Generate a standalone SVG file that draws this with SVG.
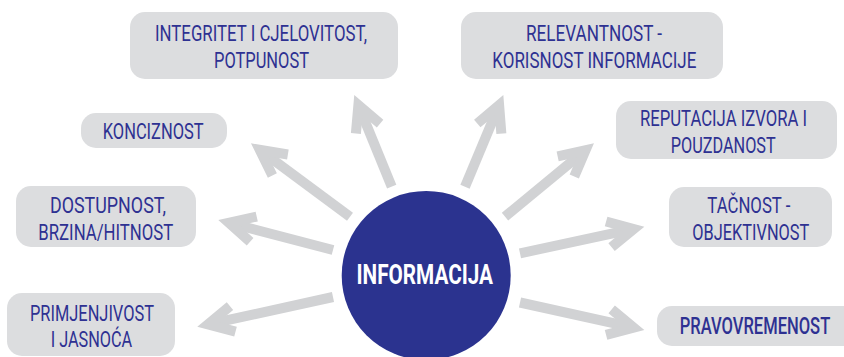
<svg xmlns="http://www.w3.org/2000/svg" width="844" height="357" viewBox="0 0 844 357">
  <style>
    .box { fill: #dcdddf; }
    .lbl { font-family: Roboto, "Liberation Sans", sans-serif; font-size: 22.5px; font-weight: 400; fill: #2e3192; }
    .lbl-strong { font-family: Roboto, "Liberation Sans", sans-serif; font-size: 23.5px; font-weight: 500; fill: #2e3192; }
    .conn line { stroke: #d1d2d4; stroke-width: 10; stroke-linecap: butt; fill: none; }
    .center-txt { font-family: Roboto, "Liberation Sans", sans-serif; font-size: 28px; font-weight: bold; fill: #ffffff; }
  </style>
  <defs>
    <marker id="ah" markerUnits="userSpaceOnUse" orient="auto" refX="0" refY="0" markerWidth="60" markerHeight="60" overflow="visible">
      <path d="M12,0 L-22,-17.5 L-26.6,-8.6 L-10,0 L-26.6,8.6 L-22,17.5 Z" fill="#d1d2d4"/>
    </marker>
  </defs>
  <rect width="844" height="357" fill="#ffffff"/>

  <g id="connectors" class="conn">
    <line x1="391.7" y1="186.7" x2="358.8" y2="106.1" marker-end="url(#ah)"/>
    <line x1="465" y1="186.7" x2="498.7" y2="106.1" marker-end="url(#ah)"/>
    <line x1="350" y1="216.7" x2="260.6" y2="150.5" marker-end="url(#ah)"/>
    <line x1="505" y1="216.7" x2="584.7" y2="150.9" marker-end="url(#ah)"/>
    <line x1="333" y1="250" x2="229.9" y2="223" marker-end="url(#ah)"/>
    <line x1="520" y1="253.3" x2="632.6" y2="229.2" marker-end="url(#ah)"/>
    <line x1="333" y1="297" x2="209" y2="324.1" marker-end="url(#ah)"/>
    <line x1="520" y1="302.5" x2="632.6" y2="327.4" marker-end="url(#ah)"/>
  </g>

  <g id="node-informacija">
    <circle cx="426.2" cy="275.5" r="84.5" fill="#2b338f"/>
    <text class="center-txt" transform="translate(356.5,284) scale(0.72,1)" textLength="189.6" lengthAdjust="spacingAndGlyphs">INFORMACIJA</text>
  </g>

  <g id="node-integritet">
    <rect class="box" x="130" y="12" width="268" height="67" rx="15"/>
    <text class="lbl" transform="translate(155,40.7) scale(0.74,1)" textLength="286.5" lengthAdjust="spacingAndGlyphs">INTEGRITET I CJELOVITOST,</text>
    <text class="lbl" transform="translate(214,67.7) scale(0.74,1)" textLength="128.4" lengthAdjust="spacingAndGlyphs">POTPUNOST</text>
  </g>

  <g id="node-relevantnost">
    <rect class="box" x="461" y="12" width="262" height="67" rx="15"/>
    <text class="lbl" transform="translate(526,40.7) scale(0.74,1)" textLength="183.8" lengthAdjust="spacingAndGlyphs">RELEVANTNOST -</text>
    <text class="lbl" transform="translate(492.3,67.7) scale(0.74,1)" textLength="275.7" lengthAdjust="spacingAndGlyphs">KORISNOST INFORMACIJE</text>
  </g>

  <g id="node-konciznost">
    <rect class="box" x="81" y="113" width="146" height="35" rx="15"/>
    <text class="lbl" transform="translate(102.7,139.3) scale(0.74,1)" textLength="136.5" lengthAdjust="spacingAndGlyphs">KONCIZNOST</text>
  </g>

  <g id="node-reputacija">
    <rect class="box" x="616" y="101" width="221" height="58" rx="15"/>
    <text class="lbl" transform="translate(640,126) scale(0.74,1)" textLength="225.7" lengthAdjust="spacingAndGlyphs">REPUTACIJA IZVORA I</text>
    <text class="lbl" transform="translate(670.7,153.3) scale(0.74,1)" textLength="141.9" lengthAdjust="spacingAndGlyphs">POUZDANOST</text>
  </g>

  <g id="node-dostupnost">
    <rect class="box" x="16" y="186" width="180" height="61" rx="15"/>
    <text class="lbl" transform="translate(50,213.3) scale(0.74,1)" textLength="156.8" lengthAdjust="spacingAndGlyphs">DOSTUPNOST,</text>
    <text class="lbl" transform="translate(38.3,240) scale(0.74,1)" textLength="182.4" lengthAdjust="spacingAndGlyphs">BRZINA/HITNOST</text>
  </g>

  <g id="node-tacnost">
    <rect class="box" x="669" y="187" width="163" height="60" rx="15"/>
    <text class="lbl" transform="translate(707.3,213.3) scale(0.74,1)" textLength="112.2" lengthAdjust="spacingAndGlyphs">TAČNOST -</text>
    <text class="lbl" transform="translate(692.3,240) scale(0.74,1)" textLength="158.1" lengthAdjust="spacingAndGlyphs">OBJEKTIVNOST</text>
  </g>

  <g id="node-primjenjivost">
    <rect class="box" x="7" y="293" width="168" height="63" rx="15"/>
    <text class="lbl" transform="translate(30,320.5) scale(0.74,1)" textLength="167.6" lengthAdjust="spacingAndGlyphs">PRIMJENJIVOST</text>
    <text class="lbl" transform="translate(50.7,347) scale(0.74,1)" textLength="110.1" lengthAdjust="spacingAndGlyphs">I JASNOĆA</text>
  </g>

  <g id="node-pravovremenost">
    <rect class="box" x="657" y="306" width="202" height="40" rx="15"/>
    <text class="lbl-strong" transform="translate(679.7,334) scale(0.74,1)" textLength="203.4" lengthAdjust="spacingAndGlyphs">PRAVOVREMENOST</text>
  </g>
</svg>
